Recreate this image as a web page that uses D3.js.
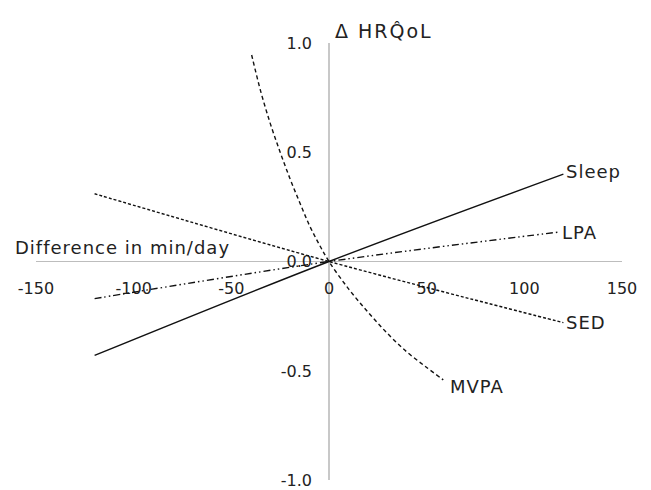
<!DOCTYPE html>
<html>
<head>
<meta charset="utf-8">
<script src="https://cdn.jsdelivr.net/npm/d3@7"></script>
<style>
  body { margin: 0; background: #fff; }
  text { font-family: "DejaVu Sans", sans-serif; fill: #222; }
</style>
</head>
<body>
<div id="wrapper"></div>
<script>
// data: [minutes difference, delta HRQoL]
const sleep = [[-120, -0.43], [0, 0], [120, 0.40]];
const lpa = [[-120, -0.17], [0, 0], [118, 0.135]];
const sed = [[-120, 0.31], [0, 0], [120, -0.28]];
const mvpa = [[-39.6, 0.945], [-35, 0.78], [-30, 0.63], [-25, 0.50], [-20, 0.38],
  [-15, 0.27], [-10, 0.165], [-5, 0.078], [0, 0], [10, -0.125], [20, -0.232],
  [30, -0.33], [40, -0.415], [50, -0.485], [58.5, -0.542]];

const xTicks = [-150, -100, -50, 0, 50, 100, 150];
const yTicks = [-1.0, -0.5, 0.0, 0.5, 1.0];

const series = [
  { name: "Sleep", values: sleep, dash: null, label: [566, 172] },
  { name: "LPA", values: lpa, dash: "7,3,1.5,3,1.5,3", label: [562, 233] },
  { name: "SED", values: sed, dash: "3,2", label: [566, 323] },
  { name: "MVPA", values: mvpa, dash: "4,3", label: [450, 387] },
];

const width = 651;
const height = 490;

const svg = d3.select("#wrapper")
  .append("svg")
    .attr("width", width)
    .attr("height", height);

const xScale = d3.scaleLinear()
  .domain([-150, 150])
  .range([36, 622]);

const yScale = d3.scaleLinear()
  .domain([-1, 1])
  .range([480, 43]);

// axes through the origin
svg.append("line")
    .attr("x1", xScale(-150))
    .attr("x2", xScale(150))
    .attr("y1", yScale(0))
    .attr("y2", yScale(0))
    .attr("stroke", "#bdbdbd")
    .attr("stroke-width", 1.2);

svg.append("line")
    .attr("x1", xScale(0))
    .attr("x2", xScale(0))
    .attr("y1", yScale(1))
    .attr("y2", yScale(-1))
    .attr("stroke", "#c8c8c8")
    .attr("stroke-width", 2);

svg.selectAll(".x-tick")
  .data(xTicks)
  .join("text")
    .attr("class", "x-tick")
    .attr("x", d => xScale(d))
    .attr("y", yScale(0) + 32)
    .attr("text-anchor", "middle")
    .style("font-size", "16px")
    .text(d => String(d));

svg.selectAll(".y-tick")
  .data(yTicks)
  .join("text")
    .attr("class", "y-tick")
    .attr("x", 312)
    .attr("y", d => yScale(d))
    .attr("dy", "0.36em")
    .attr("text-anchor", "end")
    .style("font-size", "16px")
    .text(d => d.toFixed(1));

svg.append("text")
    .attr("x", 15)
    .attr("y", 254)
    .style("font-size", "18px")
    .style("letter-spacing", "1px")
    .text("Difference in min/day");

svg.append("text")
    .attr("x", 335)
    .attr("y", 38)
    .style("font-size", "19px")
    .style("letter-spacing", "2px")
    .text("Δ HRQ\u0302oL");

// curves
const line = d3.line()
  .x(d => xScale(d[0]))
  .y(d => yScale(d[1]))
  .curve(d3.curveCatmullRom.alpha(0.5));

svg.selectAll(".curve")
  .data(series)
  .join("path")
    .attr("class", "curve")
    .attr("d", d => line(d.values))
    .attr("fill", "none")
    .attr("stroke", "#111")
    .attr("stroke-width", 1.4)
    .attr("stroke-dasharray", d => d.dash);

svg.selectAll(".series-label")
  .data(series)
  .join("text")
    .attr("class", "series-label")
    .attr("x", d => d.label[0])
    .attr("y", d => d.label[1])
    .attr("dy", "0.36em")
    .style("font-size", "18px")
    .style("letter-spacing", "1px")
    .text(d => d.name);
</script>
</body>
</html>
